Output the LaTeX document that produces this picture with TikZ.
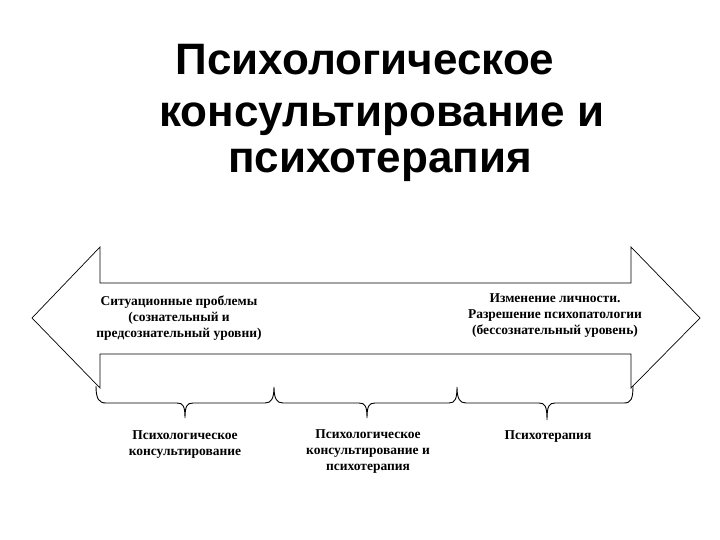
\documentclass[tikz,border=0pt]{standalone}
\usepackage{fontspec}
\setmainfont{Liberation Serif}
\newfontfamily\titlefont{Liberation Sans}
\begin{document}
\begin{tikzpicture}[x=1pt,y=-1pt,
  lbl/.style={align=center,font=\bfseries\fontsize{13.5}{16}\selectfont,inner sep=0pt},
  ttl/.style={font=\titlefont\bfseries\fontsize{44}{48}\selectfont,inner sep=0pt,anchor=base},
  arrowoutline/.style={draw=black,line width=0.7pt},
  brace/.style={draw=black,line width=0.9pt}]
\useasboundingbox (0,0) rectangle (720,540);
% title
\node[ttl] (t1) at (365,75) {Психологическое};
\node[ttl] (t2) at (382,127) {консультирование и};
\node[ttl] (t3) at (380,173) {психотерапия};
% double arrow
\draw[arrowoutline] (32,318) -- (100,247) -- (100,283) -- (631,283) -- (631,247) -- (700,318)
  -- (631,388) -- (631,354) -- (100,354) -- (100,388) -- cycle;
\node[lbl] (l) at (179,318) {Ситуационные проблемы\\(сознательный и\\предсознательный уровни)};
\node[lbl] (r) at (555,316) {Изменение личности.\\Разрешение психопатологии\\(бессознательный уровень)};
% braces
\draw[brace] (96,386) .. controls (96,399) and (99,403) .. (106,403) -- (177,403)
  .. controls (183,403) and (185,406) .. (185,418)
  .. controls (185,406) and (187,403) .. (193,403) -- (265,403)
  .. controls (271,403) and (274,399) .. (274,387)
  .. controls (274,399) and (277,403) .. (283,403) -- (359,403)
  .. controls (365,403) and (367,406) .. (367,418)
  .. controls (367,406) and (369,403) .. (375,403) -- (449,403)
  .. controls (455,403) and (457,399) .. (457,387)
  .. controls (457,399) and (460,403) .. (466,403) -- (539,403)
  .. controls (545,403) and (547,406) .. (547,420)
  .. controls (547,406) and (549,403) .. (555,403) -- (624,403)
  .. controls (631,403) and (633,399) .. (633,386);
\node[lbl] (b1) at (185,445) {Психологическое\\консультирование};
\node[lbl] (b2) at (368,452) {Психологическое\\консультирование и\\психотерапия};
\node[lbl] (b3) at (548,437) {Психотерапия};
\end{tikzpicture}
\end{document}
